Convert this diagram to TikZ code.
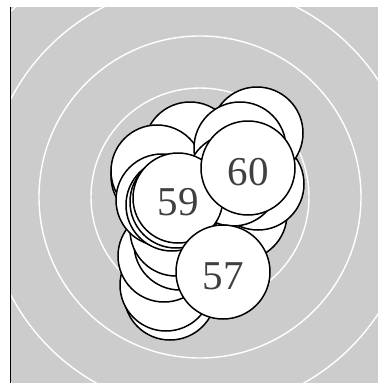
\documentclass[tikz,border=0pt]{standalone}
\usepackage{fontspec}
\setmainfont{Liberation Serif}
\definecolor{bggray}{HTML}{CCCCCC}
\definecolor{txtgray}{HTML}{404040}
\begin{document}
\begin{tikzpicture}[x=1pt,y=-1pt,
  disc/.style={circle,draw=black,fill=white,line width=1.5pt,inner sep=0pt,minimum size=92pt,
    font=\fontsize{41}{43}\selectfont,text=txtgray,text height=35pt,text depth=0pt},
  ring/.style={draw=white,line width=1.4pt}]
\useasboundingbox (0,0) rectangle (378,383);
\fill[bggray] (10,7) rectangle (378,383);
\begin{scope}
\clip (10,7) rectangle (378,383);
\coordinate (ctr) at (200,197);
\foreach \r in {57,109,161,213,265} \draw[ring] (ctr) circle[radius=\r];
\end{scope}
\draw[black,line width=0.8pt] (10,7) -- (10,383);
% back discs
\node[disc] (d1) at (170,294) {};
\node[disc] (d2) at (166,285) {};
\node[disc] (d3) at (164,256) {};
\node[disc] (d4) at (180,244) {};
\node[disc] (d5) at (176,230) {};
\node[disc] (d6) at (241,214) {};
\node[disc] (d7) at (258,184) {};
\node[disc] (d8) at (257,133) {};
\node[disc] (d9) at (190,148) {};
\node[disc] (d10) at (157,176) {};
\node[disc] (d11) at (157,171) {};
\node[disc] (d12) at (162,200) {};
\node[disc] (d13) at (172,205) {};
\node[disc] (d14) at (176,202) {};
\node[disc] (d15) at (240,148) {};
\node[disc] (d16) at (233,180) {};
% labelled discs
\node[disc,minimum size=90pt] (n59) at (178,198) {59};
\node[disc,minimum size=94pt] (n60) at (248,168) {60};
\node[disc,minimum size=94pt] (n57) at (223,272) {57};
\end{tikzpicture}
\end{document}
